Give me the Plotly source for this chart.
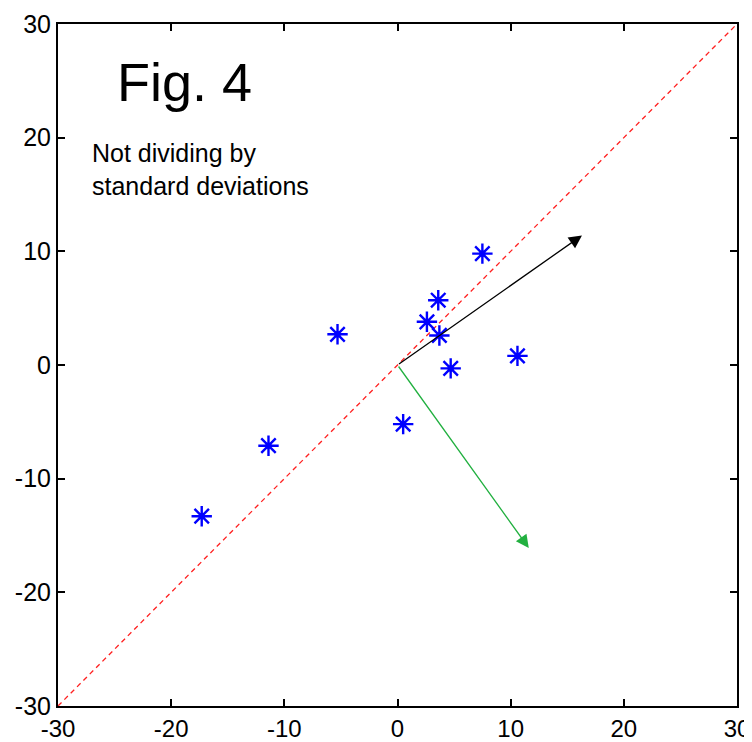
import plotly.graph_objects as go

# Data
pts_x = [7.5, 3.6, 2.6, 3.7, 4.7, 10.6, -5.3, 0.5, -11.4, -17.3]
pts_y = [9.8, 5.7, 3.8, 2.6, -0.3, 0.8, 2.7, -5.2, -7.1, -13.3]
diag_x = [-30, 30]
diag_y = [-30, 30]
arrow1 = [16.3, 11.4]
arrow2 = [11.6, -16.1]
tick_vals = [-30, -20, -10, 0, 10, 20, 30]
tick_text = ["-30", "-20", "-10", "0", "10", "20", "30"]

fig = go.Figure()
fig.add_trace(go.Scatter(x=diag_x, y=diag_y, mode="lines",
                         line=dict(color="#ff2020", width=1.3, dash="5px,4px"),
                         hoverinfo="skip", showlegend=False))
fig.add_trace(go.Scatter(x=pts_x, y=pts_y, mode="markers",
                         marker=dict(symbol="asterisk-open", size=17, color="#0000ff",
                                     line=dict(color="#0000ff", width=2.4)),
                         showlegend=False))
fig.add_trace(go.Scatter(x=pts_x, y=pts_y, mode="markers",
                         marker=dict(symbol="circle", size=6, color="#0000ff"),
                         hoverinfo="skip", showlegend=False))

for tip, col in [(arrow1, "black"), (arrow2, "#22b040")]:
    fig.add_annotation(x=tip[0], y=tip[1], ax=0, ay=0, xref="x", yref="y",
                       axref="x", ayref="y", text="", showarrow=True,
                       arrowhead=2, arrowsize=2.0, arrowwidth=1.3, arrowcolor=col)

fig.add_annotation(x=-25.0, y=24.9, xref="x", yref="y", text="Fig. 4",
                   showarrow=False, xanchor="left", yanchor="middle",
                   font=dict(family="Liberation Sans, Arial", size=54, color="black"))
fig.add_annotation(x=-27.2, y=17.2, xref="x", yref="y",
                   text="Not dividing by<br>standard deviations",
                   showarrow=False, xanchor="left", yanchor="middle", align="left",
                   font=dict(family="Liberation Sans, Arial", size=25, color="black"))

axis_common = dict(range=[-30, 30], tickvals=tick_vals, ticktext=tick_text,
                   ticks="inside", ticklen=7, tickwidth=1.5, tickcolor="black",
                   showline=True, linecolor="black", linewidth=2, mirror="ticks",
                   showgrid=False, zeroline=False, automargin=False)
fig.update_xaxes(**axis_common,
                 tickfont=dict(family="Liberation Sans, Arial", size=24, color="black"))
fig.update_yaxes(**axis_common,
                 tickfont=dict(family="Liberation Sans, Arial", size=25, color="black"))

fig.update_layout(width=744, height=734,
                  margin=dict(l=50, r=15, t=16, b=36),
                  plot_bgcolor="white", paper_bgcolor="white")
fig.write_html("out.html")
